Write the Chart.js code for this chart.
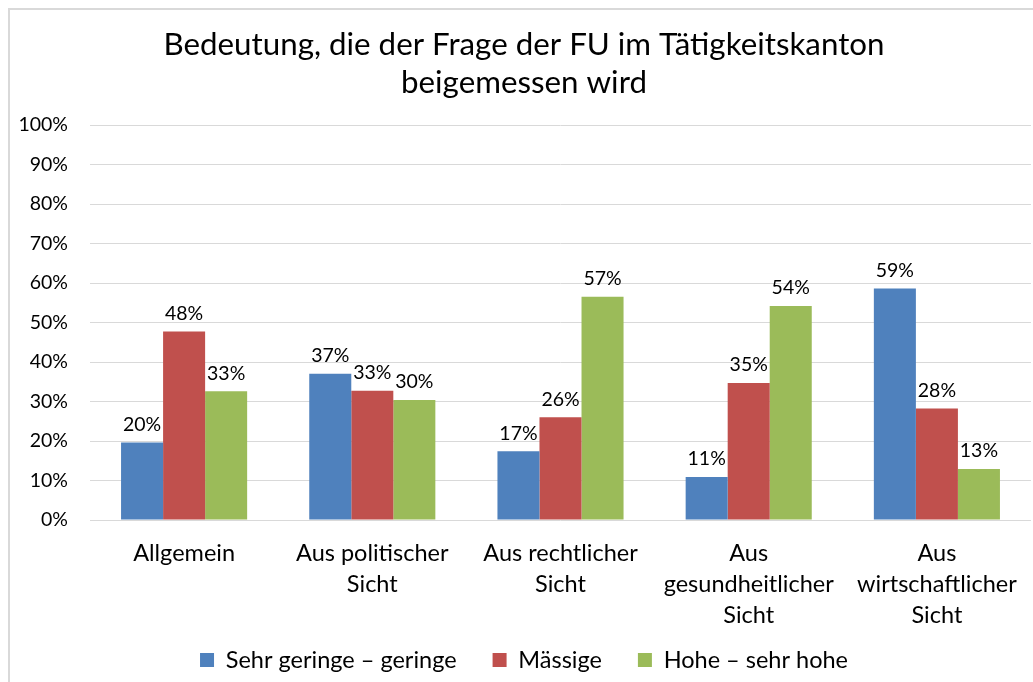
<!DOCTYPE html>
<html>
<head>
<meta charset="utf-8">
<script src="https://cdn.jsdelivr.net/npm/chart.js@4/dist/chart.umd.min.js"></script>
<style>
  html, body { margin: 0; padding: 0; overflow: hidden; background: #fff; }
  #frame { position: absolute; left: 8px; top: 8px; width: 1100px; height: 720px; border: 2px solid #d9d9d9; box-sizing: border-box; }
  #chart { position: absolute; left: 8px; top: 8px; }
</style>
</head>
<body>
<div id="frame"></div>
<canvas id="chart" width="1040" height="700"></canvas>
<script>
  var categories = [
      ["Allgemein"],
      ["Aus politischer", "Sicht"],
      ["Aus rechtlicher", "Sicht"],
      ["Aus", "gesundheitlicher", "Sicht"],
      ["Aus", "wirtschaftlicher", "Sicht"]
  ];
  var seriesNames = ["Sehr geringe \u2013 geringe", "M\u00e4ssige", "Hohe \u2013 sehr hohe"];
  var lowValues = [19.6, 37.0, 17.4, 10.9, 58.6];
  var midValues = [47.7, 32.7, 26.0, 34.7, 28.2];
  var highValues = [32.6, 30.4, 56.5, 54.2, 12.9];
  var yTicks = [0, 10, 20, 30, 40, 50, 60, 70, 80, 90, 100];

  var fontFamily = "Lato, 'Open Sans', sans-serif";

  // draws the rounded percentage above each bar
  var valueLabels = {
      id: 'valueLabels',
      afterDatasetsDraw: function(chart) {
          var ctx = chart.ctx;
          ctx.save();
          ctx.font = "19.5px " + fontFamily;
          ctx.fillStyle = '#000';
          ctx.textAlign = 'center';
          ctx.textBaseline = 'middle';
          chart.data.datasets.forEach(function(ds, i) {
              chart.getDatasetMeta(i).data.forEach(function(bar, j) {
                  ctx.fillText(Math.round(ds.data[j]) + '%', bar.x, bar.y - 18);
              });
          });
          ctx.restore();
      }
  };

  // legend padding is wide for spacing between items, pull it back up a bit
  var legendLift = {
      id: 'legendLift',
      afterLayout: function(chart) {
          chart.legend.top -= 18;
          chart.legend.bottom -= 18;
      }
  };

  var chartEl = document.getElementById("chart");
  var importanceChart = new Chart(chartEl, {
      type: 'bar',
      plugins: [valueLabels, legendLift],
      data: {
          labels: categories,
          datasets: [{
              label: seriesNames[0],
              data: lowValues,
              backgroundColor: '#4f81bd'
          }, {
              label: seriesNames[1],
              data: midValues,
              backgroundColor: '#c0504d'
          }, {
              label: seriesNames[2],
              data: highValues,
              backgroundColor: '#9bbb59'
          }]
      },
      options: {
          responsive: false,
          animation: false,
          layout: {
              padding: { left: 9, right: 17, top: 0, bottom: 8.25 }
          },
          datasets: {
              bar: { categoryPercentage: 0.67, barPercentage: 1, borderWidth: 0 }
          },
          plugins: {
              tooltip: { enabled: false },
              title: {
                  display: true,
                  text: ["Bedeutung, die der Frage der FU im T\u00e4tigkeitskanton", "beigemessen wird"],
                  color: '#000',
                  font: { family: fontFamily, size: 31.3, weight: 'normal', lineHeight: 38 / 31.3 },
                  padding: { top: 18, bottom: 23 }
              },
              legend: {
                  position: 'bottom',
                  labels: {
                      color: '#000',
                      boxWidth: 14,
                      boxHeight: 14,
                      padding: 36,
                      font: { family: fontFamily, size: 23.5 }
                  }
              }
          },
          scales: {
              x: {
                  grid: { display: false, drawTicks: false },
                  border: { display: false },
                  ticks: {
                      color: '#000',
                      autoSkip: false,
                      maxRotation: 0,
                      padding: 17.5,
                      font: { family: fontFamily, size: 23.5, lineHeight: 31 / 23.5 }
                  },
                  afterFit: function(scale) { scale.height = 110.25; }
              },
              y: {
                  min: 0,
                  max: 100,
                  grid: { color: '#d9d9d9', lineWidth: 1, drawTicks: false },
                  border: { display: false },
                  afterBuildTicks: function(scale) {
                      scale.ticks = yTicks.map(function(v) { return { value: v }; });
                  },
                  ticks: {
                      color: '#000',
                      padding: 22,
                      font: { family: fontFamily, size: 19.5 },
                      callback: function(v) { return v + '%'; }
                  },
                  afterFit: function(scale) { scale.width = 73; }
              }
          }
      }
  });
</script>
</body>
</html>
